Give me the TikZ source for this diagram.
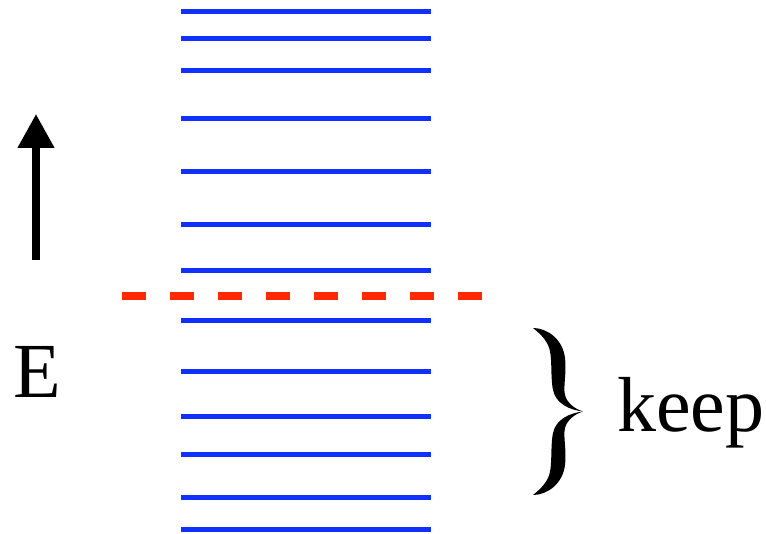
\documentclass[tikz,border=0pt]{standalone}
\usepackage{fontspec}
\setmainfont{Liberation Serif}
\usetikzlibrary{arrows.meta}
\definecolor{levelblue}{RGB}{16,48,255}
\definecolor{cutred}{RGB}{255,40,0}
\tikzset{
  level/.style={draw=levelblue, line width=5pt},
  cutoff/.style={draw=cutred, line width=8pt, dash pattern=on 24pt off 24pt},
  axisarrow/.style={line width=7.5pt, -{Triangle[length=34pt, width=35pt]}},
  bigtext/.style={inner sep=0pt, font=\fontsize{78}{80}\selectfont},
}
\begin{document}
\begin{tikzpicture}[x=1pt, y=-1pt]
  \useasboundingbox (0,0) rectangle (766,534);

  % energy levels
  \foreach \yy in {11.5, 38.5, 70.5, 118.5, 171.7, 225, 270.3, 321, 371.7, 417, 454.3, 497, 529} {
    \draw[level] (181,\yy) -- (431,\yy);
  }

  % cut-off line
  \coordinate (cutL) at (122,295.7);
  \coordinate (cutR) at (482,295.7);
  \draw[cutoff] (cutL) -- (cutR);

  % energy axis
  \coordinate (axbot) at (36,260);
  \coordinate (axtop) at (36,114);
  \draw[axisarrow] (axbot) -- (axtop);
  \node[bigtext, anchor=base west] (elabel) at (13,397.5) {E};

  % curly brace, upper arm and its mirror image
  \foreach \s in {1,-1} {
    \fill[shift={(0,411.5)}, yscale=\s]
      (533,-83.5) .. controls (548,-83.5) and (563,-71.5) .. (565,-53.5)
      .. controls (567,-36.5) and (562,-21.5) .. (566,-13.5)
      .. controls (570,-5.5) and (578,-1.5) .. (583,0)
      .. controls (570,-1.5) and (556,-7.5) .. (553,-21.5)
      .. controls (550,-36.5) and (553,-56.5) .. (548,-66.5)
      .. controls (544,-74.5) and (538,-79.5) .. (533,-83.5) -- cycle;
  }
  \node[bigtext, anchor=base west] (keeplabel) at (617,432) {keep};
\end{tikzpicture}
\end{document}
